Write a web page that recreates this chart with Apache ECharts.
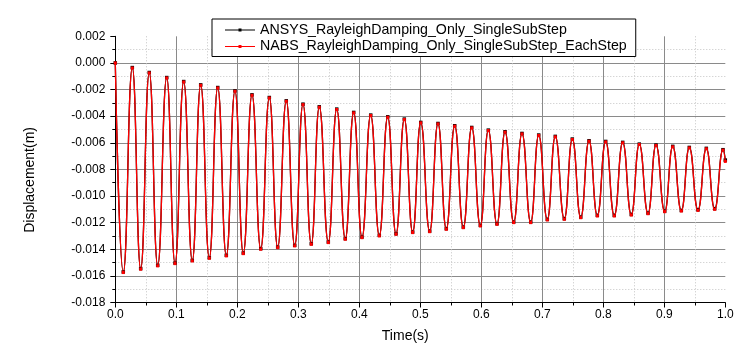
<!DOCTYPE html>
<html>
<head>
<meta charset="utf-8">
<script src="https://cdn.jsdelivr.net/npm/echarts@6/dist/echarts.min.js"></script>
<style>
html,body{margin:0;padding:0;background:#fff;}
#chart{width:756px;height:356px;}
</style>
</head>
<body>
<div id="chart"></div>
<script>
// Time (s) of the successive extrema (peak, trough, peak, ...), plus the end point
var time = [0, 0.0131, 0.0279, 0.0416, 0.0557, 0.0695, 0.0843, 0.0979, 0.1121, 0.1262, 0.1400,
  0.1541, 0.1679, 0.1820, 0.1962, 0.2098, 0.2241, 0.2384, 0.2525, 0.2662, 0.2803, 0.2941, 0.3077,
  0.3213, 0.3344, 0.3492, 0.3630, 0.3770, 0.3908, 0.4044, 0.4187, 0.4328, 0.4466, 0.4602, 0.4738,
  0.4875, 0.5007, 0.5154, 0.5290, 0.5426, 0.5564, 0.5705, 0.5843, 0.5984, 0.6115, 0.6257, 0.6389,
  0.6531, 0.6667, 0.6810, 0.6941, 0.7082, 0.7213, 0.7361, 0.7492, 0.7630, 0.7766, 0.7902, 0.8039,
  0.8180, 0.8318, 0.8459, 0.8590, 0.8733, 0.8864, 0.9007, 0.9138, 0.9279, 0.9410, 0.9552, 0.9689,
  0.9826, 0.9962, 1.0];

// Displacement (m), ANSYS_RayleighDamping_Only_SingleSubStep
var ansys = [0, -0.0157, -0.00035, -0.01545, -0.00072, -0.0152, -0.0011, -0.01503, -0.0014, -0.01483,
  -0.00165, -0.01463, -0.00185, -0.01445, -0.0021, -0.01428, -0.0024, -0.01395, -0.0026, -0.01383,
  -0.00285, -0.0137, -0.0031, -0.01358, -0.0033, -0.01345, -0.00347, -0.0132, -0.00372, -0.01308,
  -0.00392, -0.01295, -0.00405, -0.01283, -0.00422, -0.0127, -0.00447, -0.01263, -0.00455, -0.01245,
  -0.00472, -0.01233, -0.00485, -0.0122, -0.00505, -0.01208, -0.00517, -0.01195, -0.0053, -0.01195,
  -0.00542, -0.01175, -0.00552, -0.0117, -0.00572, -0.01158, -0.00585, -0.01145, -0.0059, -0.01145,
  -0.00597, -0.01138, -0.0061, -0.01128, -0.00617, -0.01113, -0.00627, -0.01108, -0.00635, -0.01103,
  -0.00642, -0.01095, -0.00652, -0.0073];

// Displacement (m), NABS_RayleighDamping_Only_SingleSubStep_EachStep
var nabs = [0, -0.01575, -0.00038, -0.0155, -0.00075, -0.01525, -0.00113, -0.01508, -0.00143, -0.01488,
  -0.00168, -0.01468, -0.00188, -0.0145, -0.00213, -0.01433, -0.00243, -0.0140, -0.00263, -0.01388,
  -0.00288, -0.01375, -0.00313, -0.01363, -0.00333, -0.0135, -0.0035, -0.01325, -0.00375, -0.01313,
  -0.00395, -0.013, -0.00408, -0.01288, -0.00425, -0.01275, -0.0045, -0.01268, -0.00458, -0.0125,
  -0.00475, -0.01238, -0.00488, -0.01225, -0.00508, -0.01213, -0.0052, -0.012, -0.00533, -0.012,
  -0.00545, -0.0118, -0.00555, -0.01175, -0.00575, -0.01163, -0.00588, -0.0115, -0.00593, -0.0115,
  -0.006, -0.01143, -0.00613, -0.01133, -0.0062, -0.01118, -0.0063, -0.01113, -0.00638, -0.01108,
  -0.00645, -0.011, -0.00655, -0.0074];

var seriesNames = ['ANSYS_RayleighDamping_Only_SingleSubStep', 'NABS_RayleighDamping_Only_SingleSubStep_EachStep'];
var seriesColors = ['#000000', '#ff0000'];
var xTicks = { min: 0, max: 1.0, interval: 0.1 };
var yTicks = { min: -0.018, max: 0.002, interval: 0.002 };

var FONT = 'Liberation Sans, Arial, sans-serif';

function pairs(vals) {
  return time.map(function (t, i) { return [t, vals[i]]; });
}

var chart = echarts.init(document.getElementById('chart'), null, { renderer: 'canvas' });

var axisCommon = {
  axisLine: { show: true, onZero: false, lineStyle: { color: '#000', width: 1 } },
  axisTick: { show: true, inside: false, length: 5, lineStyle: { color: '#000' } },
  minorTick: { show: true, splitNumber: 2, length: 3, lineStyle: { color: '#000' } },
  splitLine: { show: true, showMinLine: false, showMaxLine: false, lineStyle: { color: '#8a8a8a', width: 1 } },
  minorSplitLine: { show: true, lineStyle: { color: '#c4c4c4', width: 1, type: [1, 2] } }
};

var option = {
  animation: false,
  backgroundColor: '#fff',
  textStyle: { fontFamily: FONT },
  grid: { left: 115.3, right: 30.7, top: 36.3, bottom: 53.5, containLabel: false },
  legend: {
    orient: 'vertical',
    left: 212, top: 19,
    padding: [4, 9, 3, 13],
    itemGap: 2.5,
    itemWidth: 30, itemHeight: 3,
    backgroundColor: '#fff',
    borderColor: '#000', borderWidth: 1,
    textStyle: { fontFamily: FONT, fontSize: 14.2, color: '#000', padding: [0, 0, 0, 0] },
    itemStyle: { borderWidth: 0 },
    data: seriesNames.map(function (n) {
      return { name: n, icon: 'path://M0,1H30V2H0Z M13.5,0H16.5V3H13.5Z' };
    })
  },
  xAxis: Object.assign({}, axisCommon, {
    type: 'value',
    min: xTicks.min, max: xTicks.max, interval: xTicks.interval,
    name: 'Time(s)', nameLocation: 'middle', nameGap: 27,
    nameTextStyle: { fontFamily: FONT, fontSize: 14, color: '#000', padding: [0, 30, 0, 0] },
    axisLabel: { color: '#000', fontSize: 12, fontFamily: FONT, margin: 6,
      formatter: function (v) { return v.toFixed(1); } }
  }),
  yAxis: Object.assign({}, axisCommon, {
    type: 'value',
    min: yTicks.min, max: yTicks.max, interval: yTicks.interval,
    name: 'Displacement(m)', nameLocation: 'middle', nameGap: 78,
    nameTextStyle: { fontFamily: FONT, fontSize: 14, color: '#000', padding: [0, 21, 0, 0] },
    axisLabel: { color: '#000', fontSize: 12, fontFamily: FONT, margin: 10,
      formatter: function (v) { return v.toFixed(3); } }
  }),
  series: [
    {
      name: seriesNames[0], type: 'line', data: pairs(ansys),
      smooth: 0.5, smoothMonotone: 'x',
      symbol: 'rect', symbolSize: 3.5, showSymbol: true,
      lineStyle: { color: seriesColors[0], width: 1.3 },
      itemStyle: { color: seriesColors[0], borderWidth: 0 },
      z: 2
    },
    {
      name: seriesNames[1], type: 'line', data: pairs(nabs),
      smooth: 0.5, smoothMonotone: 'x',
      symbol: 'rect', symbolSize: 3, showSymbol: true,
      lineStyle: { color: seriesColors[1], width: 1.3 },
      itemStyle: { color: seriesColors[1], borderWidth: 0 },
      z: 3
    }
  ]
};
chart.setOption(option);
</script>
</body>
</html>
